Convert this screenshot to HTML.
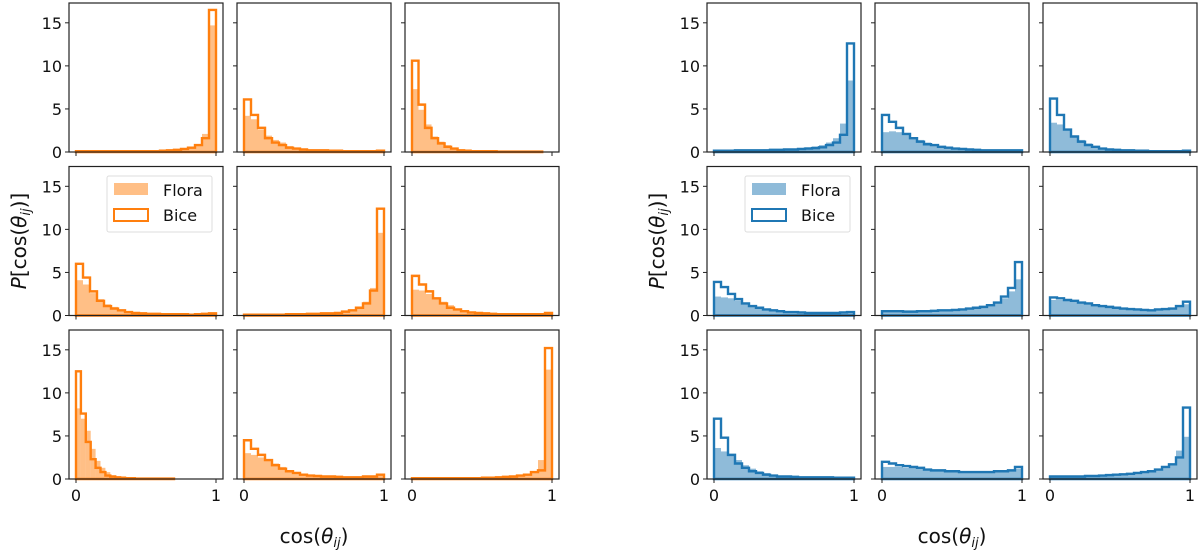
<!DOCTYPE html>
<html><head><meta charset="utf-8"><style>
body{margin:0;background:#fff}
svg{display:block;font-family:"DejaVu Sans","Liberation Sans",sans-serif}
</style></head><body>
<svg id="fig" width="1200" height="553" viewBox="0 0 1200 553" xmlns="http://www.w3.org/2000/svg"></svg>
<script>
const yTicks=[0,5,10,15];
const xTicks=[0,1];
const xTickLabels=["0","1"];
const panelNames=["l11","l12","l13","l21","l22","l23","l31","l32","l33","r11","r12","r13","r21","r22","r23","r31","r32","r33"];
const binRanges=[[0,1],[0,1],[0,0.93],[0,1],[0,1],[0,1],[0,0.7],[0,1],[0,1],[0,1],[0,1],[0,1],[0,1],[0,1],[0,1],[0,1],[0,1],[0,1]];
const floraValues=[
[0.1,0.1,0.1,0.1,0.1,0.1,0.1,0.1,0.1,0.1,0.1,0.1,0.15,0.2,0.25,0.35,0.5,0.7,2.1,14.7],
[4.2,3.8,2.6,1.9,1.4,1.1,0.7,0.5,0.35,0.3,0.25,0.2,0.2,0.15,0.15,0.1,0.1,0.1,0.1,0.1],
[7.3,4.9,3.2,1.8,1.2,0.8,0.5,0.3,0.2,0.15,0.1,0.1,0.1,0.05,0.05,0.05,0.05,0.05,0.05,0.05],
[4.1,3.6,2.6,1.9,1.3,1.0,0.7,0.5,0.35,0.3,0.25,0.2,0.15,0.15,0.15,0.15,0.1,0.15,0.2,0.25],
[0.1,0.1,0.1,0.1,0.1,0.1,0.15,0.15,0.15,0.2,0.2,0.25,0.3,0.35,0.5,0.7,1.0,1.6,3.2,9.6],
[3.0,2.9,2.5,2.0,1.6,1.2,0.8,0.6,0.4,0.3,0.25,0.2,0.15,0.15,0.15,0.15,0.15,0.15,0.15,0.25],
[8.2,7.0,5.6,3.5,2.1,1.3,0.8,0.4,0.25,0.15,0.1,0.1,0.05,0.05,0.05,0.05,0.05,0.05,0.05,0.05],
[3.0,2.8,2.5,2.1,1.8,1.4,1.0,0.8,0.6,0.45,0.4,0.35,0.3,0.25,0.2,0.2,0.2,0.25,0.3,0.4],
[0.1,0.1,0.1,0.1,0.1,0.1,0.1,0.1,0.1,0.1,0.15,0.15,0.2,0.25,0.3,0.4,0.6,0.9,2.2,12.7],
[0.2,0.2,0.2,0.2,0.25,0.25,0.25,0.3,0.3,0.35,0.4,0.4,0.45,0.55,0.65,0.8,1.1,1.6,3.3,8.3],
[2.3,2.4,2.3,2.0,1.7,1.4,1.1,0.9,0.7,0.55,0.45,0.4,0.35,0.3,0.25,0.25,0.2,0.2,0.2,0.2],
[3.4,3.2,2.7,1.9,1.4,1.0,0.7,0.5,0.4,0.3,0.25,0.2,0.2,0.15,0.15,0.15,0.1,0.1,0.1,0.1],
[2.2,2.1,2.0,1.7,1.4,1.2,1.0,0.8,0.7,0.6,0.5,0.45,0.4,0.35,0.35,0.3,0.3,0.3,0.35,0.4],
[0.4,0.4,0.4,0.4,0.45,0.45,0.5,0.55,0.6,0.6,0.65,0.7,0.8,0.9,1.0,1.2,1.5,2.0,2.8,4.2],
[1.8,1.8,1.7,1.6,1.5,1.4,1.2,1.1,1.0,0.9,0.85,0.8,0.75,0.7,0.65,0.7,0.75,0.8,1.0,1.3],
[3.6,3.2,2.8,2.2,1.6,1.2,0.9,0.7,0.5,0.4,0.35,0.3,0.25,0.2,0.2,0.2,0.2,0.15,0.15,0.15],
[1.4,1.4,1.4,1.3,1.3,1.2,1.1,1.0,1.0,0.9,0.9,0.85,0.8,0.8,0.8,0.8,0.85,0.9,1.0,1.2],
[0.2,0.2,0.2,0.2,0.25,0.25,0.3,0.3,0.35,0.4,0.45,0.5,0.6,0.7,0.8,1.0,1.3,1.8,3.3,4.9]
];
const biceValues=[
[0.1,0.1,0.1,0.1,0.1,0.1,0.1,0.1,0.1,0.1,0.1,0.1,0.15,0.2,0.25,0.35,0.5,0.8,1.6,16.5],
[6.1,4.3,2.8,1.6,1.1,0.8,0.5,0.4,0.3,0.2,0.2,0.2,0.15,0.15,0.1,0.1,0.1,0.1,0.1,0.15],
[10.6,5.5,2.8,1.6,1.0,0.6,0.4,0.2,0.15,0.1,0.1,0.1,0.1,0.05,0.05,0.05,0.05,0.05,0.05,0.05],
[6.0,4.4,2.8,1.7,1.1,0.8,0.6,0.4,0.3,0.25,0.2,0.2,0.15,0.15,0.15,0.15,0.1,0.15,0.2,0.25],
[0.1,0.1,0.1,0.1,0.1,0.1,0.15,0.15,0.15,0.2,0.2,0.25,0.25,0.3,0.45,0.6,0.9,1.4,2.9,12.4],
[4.6,3.6,2.8,2.0,1.4,0.9,0.7,0.5,0.35,0.3,0.25,0.2,0.15,0.15,0.15,0.15,0.15,0.15,0.15,0.3],
[12.5,7.6,4.3,2.3,1.3,0.8,0.4,0.3,0.2,0.15,0.1,0.1,0.05,0.05,0.05,0.05,0.05,0.05,0.05,0.05],
[4.5,3.5,2.8,2.2,1.6,1.2,0.9,0.7,0.5,0.4,0.35,0.3,0.3,0.25,0.2,0.2,0.2,0.3,0.3,0.5],
[0.1,0.1,0.1,0.1,0.1,0.1,0.1,0.1,0.1,0.1,0.15,0.15,0.2,0.25,0.3,0.4,0.5,0.8,1.0,15.2],
[0.15,0.15,0.15,0.2,0.2,0.2,0.2,0.2,0.25,0.25,0.3,0.3,0.35,0.4,0.45,0.55,0.8,1.1,2.0,12.6],
[4.3,3.5,2.8,2.1,1.6,1.2,0.9,0.8,0.6,0.5,0.4,0.35,0.3,0.25,0.2,0.2,0.2,0.2,0.2,0.2],
[6.2,4.3,2.6,1.8,1.2,0.8,0.6,0.4,0.3,0.25,0.2,0.2,0.15,0.15,0.1,0.1,0.1,0.1,0.1,0.15],
[3.9,3.3,2.5,1.9,1.4,1.1,0.9,0.7,0.6,0.5,0.4,0.4,0.35,0.3,0.3,0.3,0.3,0.3,0.35,0.4],
[0.5,0.5,0.5,0.45,0.45,0.5,0.5,0.55,0.6,0.6,0.65,0.7,0.8,0.9,1.0,1.2,1.5,2.2,3.2,6.2],
[2.1,2.0,1.8,1.7,1.5,1.4,1.2,1.1,1.0,0.9,0.8,0.75,0.7,0.65,0.6,0.7,0.75,0.8,1.1,1.6],
[7.0,4.8,2.8,1.8,1.3,0.9,0.7,0.5,0.4,0.3,0.3,0.25,0.2,0.2,0.2,0.2,0.2,0.15,0.15,0.15],
[2.0,1.8,1.6,1.5,1.4,1.3,1.1,1.0,1.0,0.9,0.9,0.8,0.8,0.8,0.8,0.8,0.9,0.9,1.0,1.4],
[0.3,0.3,0.3,0.3,0.3,0.35,0.35,0.4,0.45,0.5,0.55,0.6,0.7,0.8,0.9,1.1,1.4,1.7,2.5,8.3]
];
const groupColors=["#ff7f0e","#1f77b4"];
const NS="http://www.w3.org/2000/svg";
const svg=document.getElementById('fig');
function mk(tag,attrs,parent){const e=document.createElementNS(NS,tag);for(const k in attrs)e.setAttribute(k,attrs[k]);(parent||svg).appendChild(e);return e;}
const colX=[69,237,405,707,875,1043], rowY=[3,166.5,330], PW=154, PH=149, YMAX=17.3;
for(let p=0;p<18;p++){
  const g=Math.floor(p/9), r=Math.floor((p%9)/3), c=p%3;
  const x0=colX[g*3+c], y0=rowY[r];
  const xs=v=>x0+PW*(v+0.05)/1.1;
  const ys=v=>y0+PH-PH*v/YMAX;
  const col=groupColors[g];
  const grp=mk('g',{});
  
  
  const fl=floraValues[p], bi=biceValues[p], rg=binRanges[p], n=fl.length, bw=(rg[1]-rg[0])/n;
  for(let i=0;i<n;i++){
    const a=xs(rg[0]+i*bw), b=xs(rg[0]+(i+1)*bw);
    const rc=mk('rect',{x:a,y:ys(fl[i]),width:b-a,height:ys(0)-ys(fl[i]),fill:col,'fill-opacity':0.5},grp);
    
    
  }
  let d='M'+xs(rg[0])+','+ys(0);
  for(let i=0;i<n;i++){d+=' L'+xs(rg[0]+i*bw)+','+ys(bi[i])+' L'+xs(rg[0]+(i+1)*bw)+','+ys(bi[i]);}
  d+=' L'+xs(rg[1])+','+ys(0)+' Z';
  const st=mk('path',{d:d,fill:'none',stroke:col,'stroke-width':2.4,'stroke-linejoin':'miter'},grp);
  
  
  const fr=mk('rect',{x:x0,y:y0,width:PW,height:PH,fill:'none',stroke:'#222','stroke-width':1.2},grp);
  
  
  yTicks.forEach(t=>{
    mk('line',{x1:x0-4,x2:x0,y1:ys(t),y2:ys(t),stroke:'#222','stroke-width':1},grp);
    if(c===0){const tx=mk('text',{x:x0-7,y:ys(t)+6,'text-anchor':'end','font-size':16,fill:'#111'},grp);tx.textContent=t;
      
      }
  });
  xTicks.forEach((t,k)=>{
    mk('line',{x1:xs(t),x2:xs(t),y1:y0+PH,y2:y0+PH+4,stroke:'#222','stroke-width':1},grp);
    if(r===2){const tx=mk('text',{x:xs(t),y:y0+PH+22,'text-anchor':'middle','font-size':16,fill:'#111'},grp);tx.textContent=xTickLabels[k];
      
      }
  });
}
for(let g=0;g<2;g++){
  const col=groupColors[g], off=g*638;
  const lg=mk('g',{});
  
  
  mk('rect',{x:107+off,y:176,width:105,height:56,rx:2,fill:'#fff','fill-opacity':0.8,stroke:'#ddd'},lg);
  const e1=mk('rect',{x:114+off,y:183,width:34,height:12,fill:col,'fill-opacity':0.5},lg);
  
  
  const t1=mk('text',{x:163+off,y:196,'font-size':16,fill:'#111'},lg);t1.textContent='Flora';
  const e2=mk('rect',{x:114+off,y:209,width:34,height:12,fill:'none',stroke:col,'stroke-width':2},lg);
  
  
  const t2=mk('text',{x:163+off,y:221,'font-size':16,fill:'#111'},lg);t2.textContent='Bice';
  const yl=mk('text',{x:0,y:0,'font-size':20,fill:'#111','text-anchor':'middle',transform:'translate('+(26+off)+',241) rotate(-90)'});
  yl.innerHTML='<tspan font-style="italic">P</tspan>[cos(<tspan font-style="italic">θ</tspan><tspan font-style="italic" font-size="13" dy="4">ij</tspan><tspan dy="-4">)]</tspan>';
  
  
  const xl=mk('text',{x:314+off,y:543,'font-size':20,fill:'#111','text-anchor':'middle'});
  xl.innerHTML='cos(<tspan font-style="italic">θ</tspan><tspan font-style="italic" font-size="13" dy="4">ij</tspan><tspan dy="-4">)</tspan>';
  
  
}
</script>
</body></html>
